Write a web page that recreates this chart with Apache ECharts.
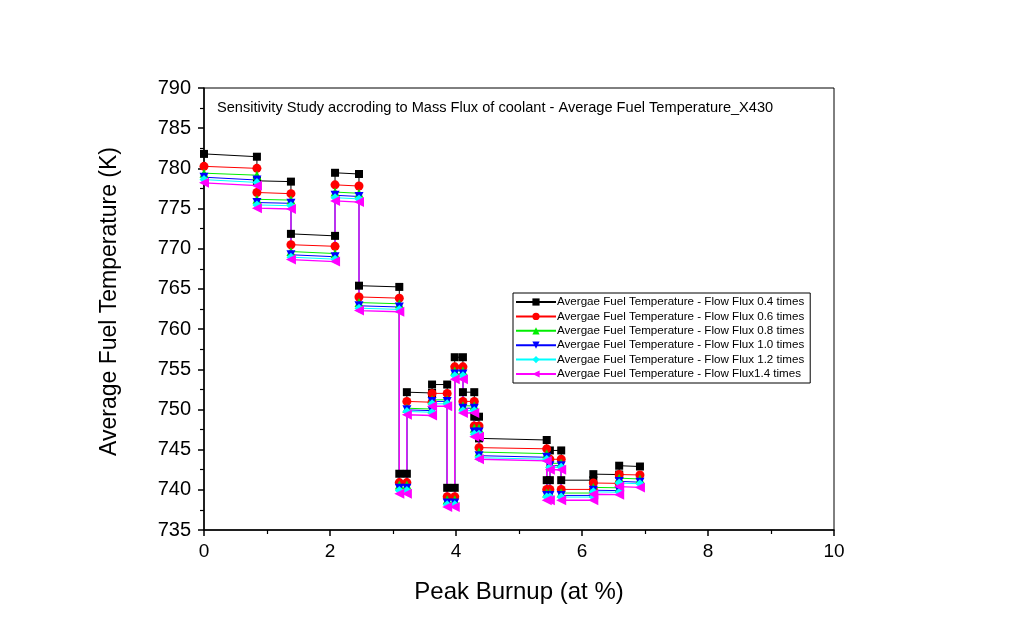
<!DOCTYPE html>
<html>
<head>
<meta charset="utf-8">
<script src="https://cdn.jsdelivr.net/npm/echarts@6/dist/echarts.min.js"></script>
<style>
html,body{margin:0;padding:0;background:#fff;}
#chart{width:1015px;height:628px;}
</style>
</head>
<body>
<div id="chart"></div>
<script>
// Segment x ranges (Peak Burnup, at %)
var segStart = [0, 0.84, 1.38, 2.08, 2.46, 3.10, 3.22, 3.62, 3.86, 3.98, 4.11, 4.29, 4.365, 5.44, 5.49, 5.67, 6.18, 6.59];
var segEnd   = [0.84, 1.38, 2.08, 2.46, 3.10, 3.22, 3.62, 3.86, 3.98, 4.11, 4.29, 4.365, 5.44, 5.49, 5.67, 6.18, 6.59, 6.92];

var seriesNames = [
  'Avergae Fuel Temperature - Flow Flux 0.4 times',
  'Avergae Fuel Temperature - Flow Flux 0.6 times',
  'Avergae Fuel Temperature - Flow Flux 0.8 times',
  'Avergae Fuel Temperature - Flow Flux 1.0 times',
  'Avergae Fuel Temperature - Flow Flux 1.2 times',
  'Avergae Fuel Temperature - Flow Flux1.4 times'
];

// Values at segment starts / ends for each series
var flux04Start = [781.8, 778.45, 771.85, 779.45, 765.4, 742.0, 752.15, 753.1, 740.25, 756.5, 752.15, 749.1, 746.4, 741.2, 744.9, 741.2, 741.95, 743.0];
var flux04End   = [781.45, 778.35, 771.6, 779.3, 765.25, 742.0, 752.05, 753.1, 740.25, 756.5, 752.15, 749.1, 746.2, 741.2, 744.9, 741.2, 741.9, 742.9];
var flux06Start = [780.25, 777.0, 770.5, 777.95, 764.0, 740.9, 751.0, 752.0, 739.15, 755.3, 751.0, 747.95, 745.25, 740.05, 743.8, 740.05, 740.85, 741.9];
var flux06End   = [780.0, 776.85, 770.3, 777.8, 763.85, 740.9, 750.9, 752.0, 739.15, 755.3, 751.0, 747.95, 745.1, 740.05, 743.8, 740.05, 740.8, 741.85];
var flux08Start = [779.4, 776.15, 769.65, 777.05, 763.3, 740.6, 750.15, 751.2, 738.75, 754.8, 750.45, 747.65, 744.7, 739.6, 743.3, 739.6, 740.3, 741.45];
var flux08End   = [779.15, 776.05, 769.4, 776.9, 763.15, 740.6, 750.05, 751.2, 738.75, 754.8, 750.45, 747.65, 744.5, 739.6, 743.3, 739.6, 740.25, 741.35];
var flux10Start = [778.9, 775.75, 769.25, 776.65, 762.9, 740.2, 749.95, 751.0, 738.35, 754.4, 750.15, 747.2, 744.25, 739.3, 743.0, 739.3, 739.95, 741.05];
var flux10End   = [778.55, 775.65, 769.0, 776.5, 762.75, 740.2, 749.85, 751.0, 738.35, 754.4, 750.15, 747.2, 744.05, 739.3, 743.0, 739.3, 739.9, 740.95];
var flux12Start = [778.6, 775.45, 768.95, 776.35, 762.6, 739.9, 749.75, 750.7, 738.15, 754.2, 749.85, 746.9, 744.0, 739.1, 742.8, 739.1, 739.75, 740.85];
var flux12End   = [778.25, 775.35, 768.7, 776.2, 762.45, 739.9, 749.65, 750.7, 738.15, 754.2, 749.85, 746.9, 743.8, 739.1, 742.8, 739.1, 739.7, 740.75];
var flux14Start = [778.2, 775.05, 768.65, 775.95, 762.3, 739.5, 749.35, 750.4, 737.85, 753.75, 749.55, 746.6, 743.8, 738.7, 742.5, 738.7, 739.45, 740.4];
var flux14End   = [777.85, 774.95, 768.4, 775.8, 762.15, 739.5, 749.25, 750.4, 737.85, 753.75, 749.55, 746.6, 743.6, 738.7, 742.5, 738.7, 739.4, 740.3];

var xTicks = [0, 2, 4, 6, 8, 10];
var yTicks = [735, 740, 745, 750, 755, 760, 765, 770, 775, 780, 785, 790];

var starts = [flux04Start, flux06Start, flux08Start, flux10Start, flux12Start, flux14Start];
var ends   = [flux04End, flux06End, flux08End, flux10End, flux12End, flux14End];
var colors = ['#000000', '#ff0000', '#00ee00', '#0000ff', '#00ffff', '#ff00ff'];
var symbols = ['rect', 'circle', 'triangle', 'triangle', 'diamond', 'triangle'];
var rotations = [0, 0, 0, 180, 0, 90];
var sizes = [8, 9, 9, 9, 9, 10];
var widths = [1, 1, 1, 1, 1, 1.4];

function buildPoints(s, e) {
  var pts = [];
  for (var i = 0; i < segStart.length; i++) {
    pts.push([segStart[i], s[i]]);
    pts.push([segEnd[i], e[i]]);
  }
  return pts;
}

var FONT = 'Liberation Sans, Arial, sans-serif';

var series = seriesNames.map(function (name, k) {
  return {
    name: name,
    type: 'line',
    data: buildPoints(starts[k], ends[k]),
    symbol: symbols[k],
    symbolRotate: rotations[k],
    symbolSize: sizes[k],
    showAllSymbol: true,
    animation: false,
    itemStyle: { color: colors[k] },
    lineStyle: { color: colors[k], width: widths[k] }
  };
});

var chart = echarts.init(document.getElementById('chart'), null, { renderer: 'canvas' });
chart.setOption({
  backgroundColor: '#ffffff',
  animation: false,
  title: {
    text: 'Sensitivity Study accroding to Mass Flux of coolant - Average Fuel Temperature_X430',
    left: 212, top: 95,
    textStyle: { fontFamily: FONT, fontSize: 14.6, fontWeight: 'normal', color: '#000' }
  },
  legend: {
    orient: 'vertical',
    left: 513, top: 293,
    data: seriesNames,
    backgroundColor: '#fff',
    borderColor: '#000', borderWidth: 1,
    borderRadius: 0,
    padding: [3, 6, 3, 2],
    itemGap: 2.4,
    itemWidth: 40, itemHeight: 9,
    textStyle: { fontFamily: FONT, fontSize: 11.6, color: '#000', padding: [0, 0, 0, -4] }
  },
  grid: {
    left: 204, right: 181, top: 88, bottom: 98,
    show: true, borderColor: '#000', borderWidth: 1, backgroundColor: 'transparent'
  },
  xAxis: {
    type: 'value', min: xTicks[0], max: xTicks[xTicks.length - 1], interval: 2,
    name: 'Peak Burnup (at %)', nameLocation: 'middle', nameGap: 50,
    nameTextStyle: { fontFamily: FONT, fontSize: 24, color: '#000' },
    axisLine: { show: true, lineStyle: { color: '#000', width: 1.5 } },
    axisTick: { show: true, inside: false, length: 6, lineStyle: { color: '#000', width: 1.5 } },
    minorTick: { show: true, splitNumber: 2, length: 4, lineStyle: { color: '#000', width: 1.2 } },
    splitLine: { show: false },
    axisLabel: { margin: 12, fontFamily: FONT, fontSize: 19, color: '#000' }
  },
  yAxis: {
    type: 'value', min: yTicks[0], max: yTicks[yTicks.length - 1], interval: 5,
    name: 'Average Fuel Temperature (K)', nameLocation: 'middle', nameGap: 83,
    nameTextStyle: { fontFamily: FONT, fontSize: 23, color: '#000', padding: [0, 0, 0, 15] },
    axisLine: { show: true, lineStyle: { color: '#000', width: 1.5 } },
    axisTick: { show: true, inside: false, length: 6, lineStyle: { color: '#000', width: 1.5 } },
    minorTick: { show: true, splitNumber: 2, length: 4, lineStyle: { color: '#000', width: 1.2 } },
    splitLine: { show: false },
    axisLabel: { margin: 13, fontFamily: FONT, fontSize: 20, color: '#000' }
  },
  series: series
});
</script>
</body>
</html>
